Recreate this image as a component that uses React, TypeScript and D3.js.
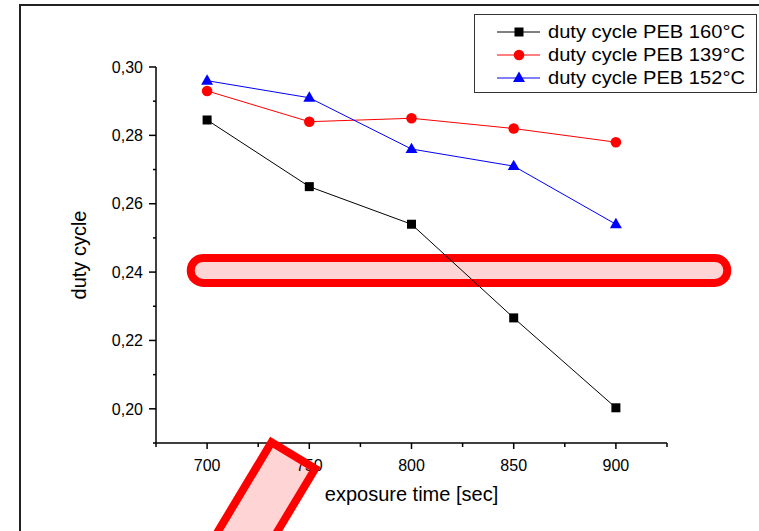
import React, { useEffect, useRef } from 'react'
import * as d3 from 'd3'

// exposure time [sec]
const exposureTimes = [700, 750, 800, 850, 900]

// duty cycle per PEB temperature
const peb160 = [0.2845, 0.265, 0.254, 0.2266, 0.2003]
const peb139 = [0.293, 0.284, 0.285, 0.282, 0.278]
const peb152 = [0.296, 0.291, 0.276, 0.271, 0.254]

const seriesNames = ['duty cycle PEB 160°C', 'duty cycle PEB 139°C', 'duty cycle PEB 152°C']
const seriesColors = ['#000000', '#ff0000', '#0000ff']
const seriesShapes = ['square', 'circle', 'triangle']

const xTicks = [700, 750, 800, 850, 900]
const yTicks = [0.20, 0.22, 0.24, 0.26, 0.28, 0.30]

// highlight marks drawn over the chart (in data units)
const bandMark = { x0: 692, x1: 954.5, y: 0.2405 }
const tiltMark = { x: 731.5, y: 0.1902, angle: 31 }

function App () {
  const ref = useRef<SVGSVGElement>(null)

  useEffect(() => {
    const svg = d3.select(ref.current)
    svg.selectAll('*').remove()

    const font = "'Liberation Sans', Arial, sans-serif"

    const x = d3.scaleLinear().domain([675, 925]).range([156, 667])
    const y = d3.scaleLinear().domain([0.19, 0.30]).range([443, 67])

    // outer frame
    svg.append('rect')
      .attr('x', 20).attr('y', 5)
      .attr('width', 900).attr('height', 700)
      .attr('fill', 'white')
      .attr('stroke', '#222').attr('stroke-width', 2)

    // horizontal highlight band
    const bx0 = x(bandMark.x0)
    const bx1 = x(bandMark.x1)
    const bh = 25
    svg.append('rect')
      .attr('x', bx0).attr('y', y(bandMark.y) - bh / 2)
      .attr('width', bx1 - bx0).attr('height', bh)
      .attr('rx', bh / 2)
      .attr('fill', 'rgba(255,0,0,0.17)')
      .attr('stroke', '#ff0000').attr('stroke-width', 8)

    // axes
    const xAxis = svg.append('g')
      .attr('transform', 'translate(0,443)')
    xAxis.append('line')
      .attr('x1', x(675)).attr('x2', x(925))
      .attr('stroke', '#000').attr('stroke-width', 1.5)
    d3.range(675, 926, 25).forEach(v => {
      const major = v % 50 === 0
      xAxis.append('line')
        .attr('x1', x(v)).attr('x2', x(v))
        .attr('y1', 0).attr('y2', major ? 6 : 4)
        .attr('stroke', '#000').attr('stroke-width', 1.5)
    })
    xAxis.selectAll('text.tick')
      .data(xTicks)
      .enter()
      .append('text')
      .attr('x', d => x(d))
      .attr('y', 28)
      .attr('text-anchor', 'middle')
      .attr('font-family', font)
      .attr('font-size', 16)
      .text(d => String(d))

    const yAxis = svg.append('g')
      .attr('transform', 'translate(156,0)')
    yAxis.append('line')
      .attr('y1', y(0.19)).attr('y2', y(0.30))
      .attr('stroke', '#000').attr('stroke-width', 1.5)
    d3.range(19, 31).forEach(i => {
      const v = i / 100
      const major = i % 2 === 0
      yAxis.append('line')
        .attr('y1', y(v)).attr('y2', y(v))
        .attr('x1', major ? -7 : -3).attr('x2', 0)
        .attr('stroke', '#000').attr('stroke-width', 1.5)
    })
    yAxis.selectAll('text.tick')
      .data(yTicks)
      .enter()
      .append('text')
      .attr('x', -13)
      .attr('y', d => y(d))
      .attr('dy', '0.36em')
      .attr('text-anchor', 'end')
      .attr('font-family', font)
      .attr('font-size', 16)
      .text(d => d3.format('.2f')(d).replace('.', ','))

    // axis titles
    svg.append('text')
      .attr('x', x(800))
      .attr('y', 501)
      .attr('text-anchor', 'middle')
      .attr('font-family', font)
      .attr('font-size', 20)
      .text('exposure time [sec]')

    svg.append('g')
      .attr('transform', 'translate(86,' + y(0.245) + ')')
      .append('text')
      .attr('text-anchor', 'middle')
      .attr('transform', 'rotate(-90)')
      .attr('font-family', font)
      .attr('font-size', 20)
      .text('duty cycle')

    // series
    const allSeries = [peb160, peb139, peb152]
    const line = d3.line<number>()
      .x((d, i) => x(exposureTimes[i]))
      .y(d => y(d))

    function drawMarker (g: any, shape: string, cx: number, cy: number, color: string) {
      if (shape === 'square') {
        g.append('rect')
          .attr('x', cx - 4.5).attr('y', cy - 4.5)
          .attr('width', 9).attr('height', 9)
          .attr('fill', color)
      } else if (shape === 'circle') {
        g.append('circle')
          .attr('cx', cx).attr('cy', cy).attr('r', 5.3)
          .attr('fill', color)
      } else {
        g.append('path')
          .attr('d', d3.symbol().type(d3.symbolTriangle).size(62)())
          .attr('transform', 'translate(' + cx + ',' + (cy + 0.5) + ')')
          .attr('fill', color)
      }
    }

    allSeries.forEach((values, s) => {
      svg.append('path')
        .datum(values)
        .attr('fill', 'none')
        .attr('stroke', seriesColors[s])
        .attr('stroke-width', 1)
        .attr('d', line)
      const g = svg.append('g')
      values.forEach((v, i) => drawMarker(g, seriesShapes[s], x(exposureTimes[i]), y(v), seriesColors[s]))
    })

    // legend
    const legend = svg.append('g')
    legend.append('rect')
      .attr('x', 474.5).attr('y', 14.5)
      .attr('width', 282).attr('height', 78)
      .attr('fill', 'white')
      .attr('stroke', '#333').attr('stroke-width', 1)
    seriesNames.forEach((name, s) => {
      const ly = 32 + s * 23
      legend.append('line')
        .attr('x1', 497).attr('x2', 540)
        .attr('y1', ly).attr('y2', ly)
        .attr('stroke', seriesColors[s]).attr('stroke-width', 1)
      drawMarker(legend, seriesShapes[s], 519, ly, seriesColors[s])
      legend.append('text')
        .attr('x', 548)
        .attr('y', ly)
        .attr('dy', '0.36em')
        .attr('font-family', font)
        .attr('font-size', 18)
        .attr('textLength', 197)
        .attr('lengthAdjust', 'spacingAndGlyphs')
        .text(name)
    })

    // tilted highlight box
    svg.append('rect')
      .attr('transform', 'translate(' + x(tiltMark.x) + ',' + y(tiltMark.y) + ') rotate(' + tiltMark.angle + ')')
      .attr('x', 0).attr('y', 0)
      .attr('width', 51).attr('height', 220)
      .attr('fill', 'rgba(255,0,0,0.17)')
      .attr('stroke', '#ff0000').attr('stroke-width', 8)
  }, [])

  return (
    <div style={{ position: 'absolute', left: 0, top: 0 }}>
      <svg ref={ref} width={759} height={531} style={{ display: 'block', background: 'white' }} />
    </div>
  )
}

export default App
